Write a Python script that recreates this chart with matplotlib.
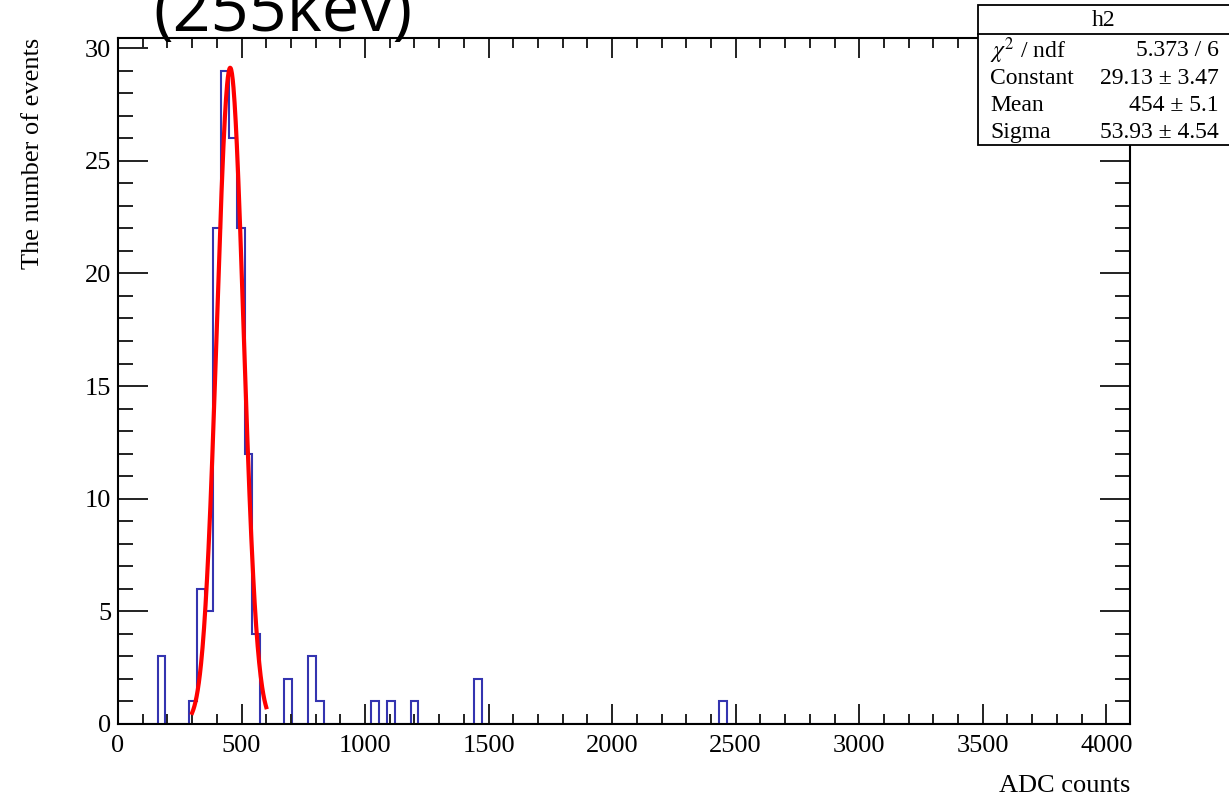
import numpy as np
import matplotlib
matplotlib.use("Agg")
import matplotlib.pyplot as plt
from matplotlib.ticker import MultipleLocator
from matplotlib.patches import Rectangle

# histogram: 128 bins of 32 ADC counts, only non-empty bins listed
bin_width = 32
n_bins = 128
filled_low_edges = [160, 288, 320, 352, 384, 416, 448, 480, 512, 544,
                    672, 768, 800, 1024, 1088, 1184, 1440, 2432]
filled_counts = [3, 1, 6, 5, 22, 29, 26, 22, 12, 4,
                 2, 3, 1, 1, 1, 1, 2, 1]

# gaus fit result
fit_const, fit_const_err = 29.13, 3.47
fit_mean, fit_mean_err = 454, 5.1
fit_sigma, fit_sigma_err = 53.93, 4.54
chi2, ndf = 5.373, 6
fit_range = (300, 600)

edges = np.arange(n_bins + 1) * bin_width
counts = np.zeros(n_bins)
for lo, c in zip(filled_low_edges, filled_counts):
    counts[lo // bin_width] = c

serif = ["Liberation Serif", "DejaVu Serif"]
px = 0.72  # points per pixel at dpi 100

fig = plt.figure(figsize=(12.29, 7.97), dpi=100)
W, H = 1229, 797
ax = fig.add_axes([118 / W, 1 - 724 / H, (1130 - 118) / W, (724 - 38) / H])

ax.stairs(counts, edges, color="#3434b0", lw=1.5, baseline=0)

xf = np.linspace(*fit_range, 200)
yf = fit_const * np.exp(-0.5 * ((xf - fit_mean) / fit_sigma) ** 2)
ax.plot(xf, yf, color="#ff0000", lw=3)

ax.set_xlim(0, 4096)
ax.set_ylim(0, 30.45)

ax.xaxis.set_major_locator(MultipleLocator(500))
ax.xaxis.set_minor_locator(MultipleLocator(100))
ax.yaxis.set_major_locator(MultipleLocator(5))
ax.yaxis.set_minor_locator(MultipleLocator(1))
ax.tick_params(which="both", direction="in", top=True, right=True, width=1.4,
               color="#222222", labelsize=19)
ax.xaxis.set_tick_params(which="major", length=20 * px, pad=8)
ax.xaxis.set_tick_params(which="minor", length=10 * px)
ax.yaxis.set_tick_params(which="major", length=30 * px, pad=5)
ax.yaxis.set_tick_params(which="minor", length=15 * px)
for lab in ax.get_xticklabels() + ax.get_yticklabels():
    lab.set_fontfamily(serif)
for sp in ax.spines.values():
    sp.set_linewidth(1.5)

fig.text(1130 / W, 1 - 786 / H, "ADC counts", ha="right", va="center",
         family=serif, fontsize=19)
fig.text(33 / W, 1 - 38 / H, "The number of events", ha="center", va="top",
         rotation=90, family=serif, fontsize=19)

# title, partly above the canvas
fig.text(283 / W, 1 - 31 / H, "(255kev)", ha="center", va="baseline",
         fontsize=48, family="Open Sans")

# stats box
bx0, bx1, by0, by1, hdr = 978, 1235, 5, 145, 34
fig.patches.append(Rectangle((bx0 / W, 1 - by1 / H), (bx1 - bx0) / W, (by1 - by0) / H,
                             transform=fig.transFigure, facecolor="white",
                             edgecolor="black", lw=1.3, zorder=5))
fig.lines.append(plt.Line2D([bx0 / W, bx1 / W], [1 - hdr / H] * 2,
                            transform=fig.transFigure, color="black", lw=1.3, zorder=6))
fig.text((bx0 + 1229) / 2 / W, 1 - 21 / H, "h2", ha="center", va="center",
         family=serif, fontsize=17, zorder=7)
rows = [
    (r"$\chi^2$ / ndf", f"{chi2} / {ndf}"),
    ("Constant", f"{fit_const} \u00b1 {fit_const_err}"),
    ("Mean", f"{fit_mean} \u00b1 {fit_mean_err}"),
    ("Sigma", f"{fit_sigma} \u00b1 {fit_sigma_err}"),
]
for i, (name, val) in enumerate(rows):
    y = 1 - (51 + i * 27.3) / H
    fig.text(990 / W, y, name, ha="left", va="center", family=serif,
             fontsize=17, zorder=7, math_fontfamily="stix")
    fig.text(1219 / W, y, val, ha="right", va="center", family=serif,
             fontsize=17, zorder=7)

fig.savefig("out.png", dpi=100)
